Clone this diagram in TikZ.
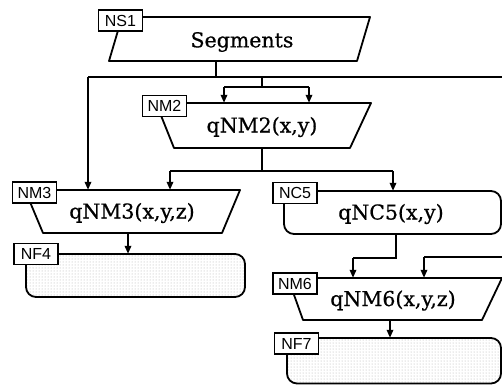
\documentclass[tikz,border=0pt]{standalone}
\usepackage{fontspec}
\setmainfont{DejaVu Serif}[FakeBold=0.6]
\newfontfamily\tagfont{Liberation Sans}
\usetikzlibrary{arrows.meta,patterns}
\tikzset{
  outline/.style={draw=black,line width=1.8pt,line join=round},
  tagbox/.style={draw=black,fill=white,line width=1.5pt,inner sep=0pt,
    minimum width=44pt,minimum height=21pt,font=\tagfont\fontsize{16}{16}\selectfont},
  body/.style={inner sep=0pt,font=\fontsize{20.5}{20.5}\selectfont},
  flow/.style={draw=black,line width=1.7pt,-{Triangle[length=8pt,width=6.5pt]}},
  wire/.style={draw=black,line width=1.7pt},
  dotted fill/.style={pattern=dots,pattern color=gray!65}
}
\begin{document}
\begin{tikzpicture}[x=1pt,y=-1pt]
\useasboundingbox (0,0) rectangle (502,385);
\clip (0,0) rectangle (502,385);

% ---- shapes ----
\draw[outline] (122,17) -- (370,17) -- (357,61) -- (109,61) -- cycle;
\node[body,minimum width=248pt,minimum height=44pt] (ns1) at (239.5,39) {};
\node[body] at (242,42) {Segments};

\draw[outline] (156,103) -- (371,103) -- (350,148) -- (174,148) -- cycle;
\node[body,minimum width=176pt,minimum height=45pt] (nm2) at (262,125.5) {};
\node[body] at (262,127) {qNM2(x,y)};

\draw[outline] (25,190) -- (240,190) -- (222,233) -- (43,233) -- cycle;
\node[body,minimum width=179pt,minimum height=43pt] (nm3) at (132.5,211.5) {};
\node[body] at (132,213) {qNM3(x,y,z)};

\draw[outline,dotted fill,rounded corners=10pt] (26,254) rectangle (245,297);
\node[inner sep=0pt,minimum width=219pt,minimum height=43pt] (nf4) at (135.5,275.5) {};

\draw[outline,rounded corners=10pt] (284,191) rectangle (501,234);
\node[body,minimum width=217pt,minimum height=43pt] (nc5) at (392.5,212.5) {};
\node[body] at (391,214) {qNC5(x,y)};

\draw[outline] (288,278) -- (502,278) -- (482,320) -- (303,320) -- cycle;
\node[body,minimum width=179pt,minimum height=42pt] (nm6) at (393,299) {};
\node[body] at (393,300.5) {qNM6(x,y,z)};

\draw[outline,dotted fill,rounded corners=10pt] (287,338) rectangle (501,383.5);
\node[inner sep=0pt,minimum width=214pt,minimum height=45.5pt] (nf7) at (394,360.75) {};

% ---- tags ----
\node[tagbox] (tns1) at (120.5,20.5) {NS1};
\node[tagbox] (tnm2) at (164.5,106) {NM2};
\node[tagbox] (tnm3) at (34.5,192.5) {NM3};
\node[tagbox] (tnf4) at (36,254) {NF4};
\node[tagbox] (tnc5) at (295,193) {NC5};
\node[tagbox] (tnm6) at (295,283.5) {NM6};
\node[tagbox] (tnf7) at (296.5,343.5) {NF7};

% ---- junctions ----
\coordinate (busA) at (216,77);
\coordinate (busAl) at (88,77);
\coordinate (busAr) at (510,77);
\coordinate (busB) at (262,87);
\coordinate (busC) at (262,171);
\coordinate (busD) at (396,258);
\coordinate (busE) at (510,257);

% ---- connectors ----
\draw[wire] (ns1.south -| busA) -- (busA);
\draw[wire] (busAl) -- (busAr);
\draw[flow] (busAl) -- (nm3.north -| busAl);
\draw[wire] (busB |- busA) -- (busB);
\draw[wire] (224,87) -- (309,87);
\draw[flow] (224,87) -- (nm2.north -| 224,0);
\draw[flow] (309,87) -- (nm2.north -| 309,0);
\draw[wire] (nm2.south -| busC) -- (busC);
\draw[wire] (170,171) -- (393,171);
\draw[flow] (170,171) -- (nm3.north -| 170,0);
\draw[flow] (393,171) -- (nc5.north -| 393,0);
\draw[flow] (nm3.south -| 128,0) -- (nf4.north -| 128,0);
\draw[wire] (nc5.south -| busD) -- (busD) -- (353,258);
\draw[flow] (353,258) -- (nm6.north -| 353,0);
\draw[wire] (busE) -- (424,257);
\draw[flow] (424,257) -- (nm6.north -| 424,0);
\draw[flow] (nm6.south -| 390,0) -- (nf7.north -| 390,0);
\end{tikzpicture}
\end{document}
